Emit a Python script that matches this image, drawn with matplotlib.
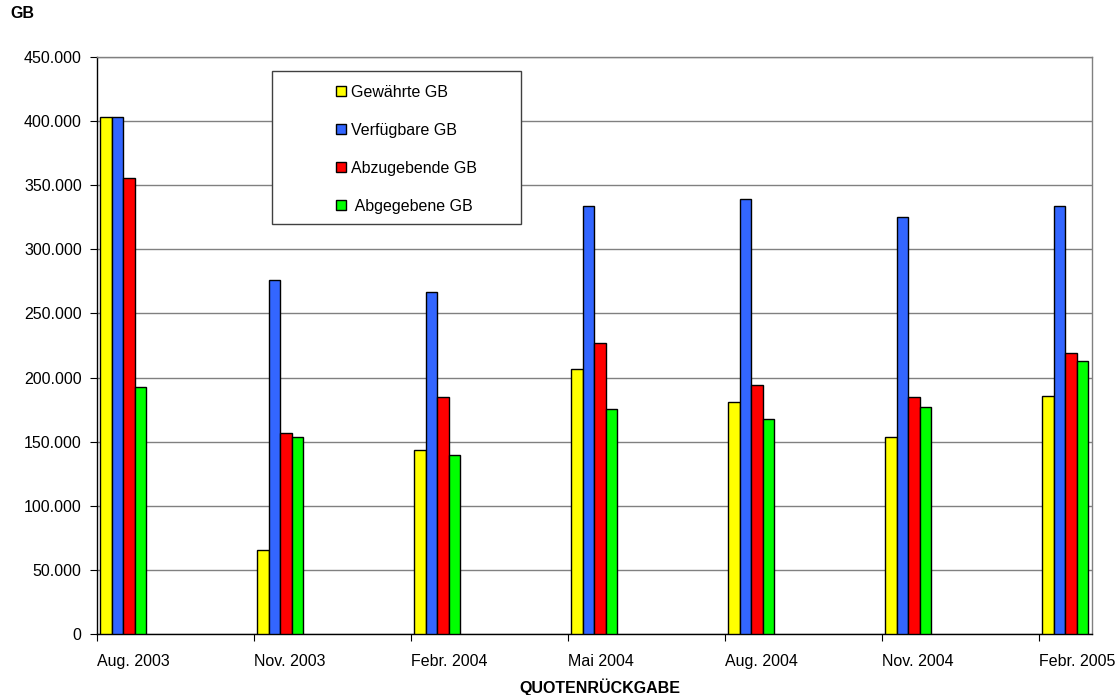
import numpy as np
import matplotlib as mpl
mpl.use('Agg')
import matplotlib.pyplot as plt
from matplotlib.patches import Rectangle
from matplotlib.lines import Line2D
from matplotlib.ticker import FuncFormatter

#
#--- data (GB)
#
periods    = ['Aug. 2003', 'Nov. 2003', 'Febr. 2004', 'Mai 2004',
              'Aug. 2004', 'Nov. 2004', 'Febr. 2005']
gewaehrt   = [403400,  65400, 143800, 206600, 180900, 153400, 185400]
verfuegbar = [403400, 275700, 266400, 333600, 339300, 325300, 333600]
abzugeben  = [355900, 157100, 184800, 226900, 194500, 185100, 218800]
abgegeben  = [192600, 153400, 139900, 175200, 167400, 176800, 212600]

labels = ['Gewährte GB', 'Verfügbare GB', 'Abzugebende GB', ' Abgegebene GB']
colors = ['#FFFF00', '#3366FF', '#FF0000', '#00FF00']

#
#--- font and figure settings
#
mpl.rcParams['font.family'] = ['Liberation Sans', 'DejaVu Sans']
mpl.rcParams['font.size']   = 11.5

fig = plt.figure(figsize=(11.2, 6.95), dpi=100)
ax  = fig.add_axes([0.0866, 0.0878, 0.8884, 0.8302])

#
#--- bars: each group starts just right of its category tick
#
x     = np.arange(len(periods))
width = 0.0732
off   = 0.021
series = [gewaehrt, verfuegbar, abzugeben, abgegeben]
for k in range(0, len(series)):
    ax.bar(x + off + k * width, series[k], width=width, align='edge',
           color=colors[k], edgecolor='black', linewidth=1.0, zorder=3)

#
#--- axes range, grid and spines
#
ax.set_xlim(0, 6.338)
ax.set_ylim(0, 450000)
ax.set_yticks(np.arange(0, 450001, 50000))
ax.yaxis.set_major_formatter(FuncFormatter(lambda v, p: '{:,.0f}'.format(v).replace(',', '.')))
ax.yaxis.grid(True, color='#808080', linewidth=1.0, zorder=0)
ax.set_axisbelow(True)

ax.spines['left'].set_color('black')
ax.spines['bottom'].set_color('black')
ax.spines['right'].set_color('#808080')
ax.spines['top'].set_color('#808080')
for sp in ax.spines.values():
    sp.set_linewidth(1.0)

ax.set_xticks(x)
ax.set_xticklabels(periods, ha='left')
ax.tick_params(axis='x', direction='out', length=5, pad=9.5, color='black')
ax.tick_params(axis='y', direction='out', length=5, pad=6, color='black')

#
#--- titles
#
fig.text(10 / 1120, 1 - 13.5 / 695, 'GB', fontsize=11.5, fontweight='bold',
         ha='left', va='center')
fig.text(600 / 1120, 1 - 687.5 / 695, 'QUOTENRÜCKGABE', fontsize=11.5,
         fontweight='bold', ha='center', va='center')

#
#--- legend: box drawn by hand, entries from a frameless legend inside it
#
box = Rectangle((0.176, 0.711), 0.25, 0.265, transform=ax.transAxes,
                facecolor='white', edgecolor='#404040', linewidth=1.0, zorder=5)
ax.add_patch(box)

handles = [Line2D([], [], linestyle='none', marker='s', markersize=7.2,
                  markerfacecolor=c, markeredgecolor='black', markeredgewidth=1.0)
           for c in colors]
leg = ax.legend(handles, labels, loc='upper left', bbox_to_anchor=(0.223, 0.98),
                frameon=False, handlelength=0.8, handletextpad=0.2,
                labelspacing=1.45, borderpad=0.5, fontsize=11.5)
leg.set_zorder(6)

plt.savefig('out.png', format='png', dpi=100)
plt.close('all')
